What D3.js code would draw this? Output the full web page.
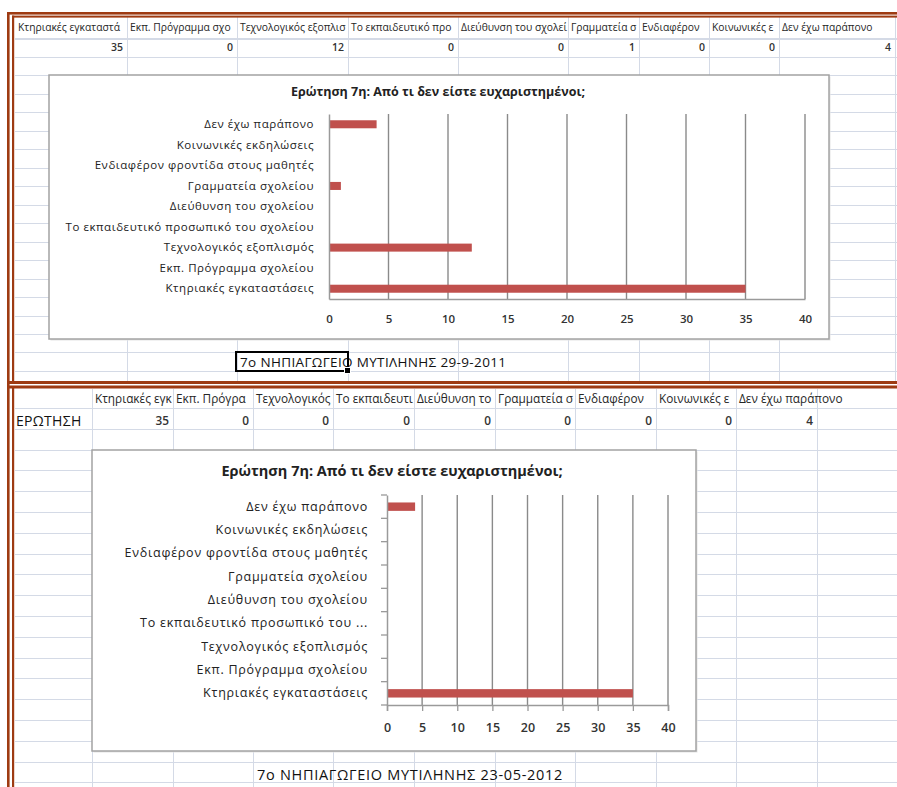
<!DOCTYPE html>
<html>
<head>
<meta charset="utf-8">
<script src="https://cdn.jsdelivr.net/npm/d3@7"></script>
<style>
  html, body { margin: 0; padding: 0; background: #fff; }
  svg { display: block; }
  text { font-family: "Open Sans", "Noto Sans", sans-serif; }
</style>
</head>
<body>
<div id="chart"></div>
<script>
// ---------------- DATA ----------------
const categories = [
  "Κτηριακές εγκαταστάσεις",
  "Εκπ. Πρόγραμμα σχολείου",
  "Τεχνολογικός εξοπλισμός",
  "Το εκπαιδευτικό προσωπικό του σχολείου",
  "Διεύθυνση του σχολείου",
  "Γραμματεία σχολείου",
  "Ενδιαφέρον φροντίδα στους μαθητές",
  "Κοινωνικές εκδηλώσεις",
  "Δεν έχω παράπονο"
];
const values2011 = [35, 0, 12, 0, 0, 1, 0, 0, 4];
const values2012 = [35, 0, 0, 0, 0, 0, 0, 0, 4];
const xTicks = [0, 5, 10, 15, 20, 25, 30, 35, 40];
const chartTitle = "Ερώτηση 7η: Από τι δεν είστε ευχαριστημένοι;";
const caption2011 = "7ο ΝΗΠΙΑΓΩΓΕΙΟ ΜΥΤΙΛΗΝΗΣ 29-9-2011";
const caption2012 = "7ο ΝΗΠΙΑΓΩΓΕΙΟ ΜΥΤΙΛΗΝΗΣ 23-05-2012";
const rowLabel2012 = "ΕΡΩΤΗΣΗ 7η";
// labels shown on the second chart's axis (one is truncated there)
const axisLabels2012 = categories.map(c =>
  c === "Το εκπαιδευτικό προσωπικό του σχολείου" ? "Το εκπαιδευτικό προσωπικό του ..." : c);

// ---------------- SETUP ----------------
const W = 897, H = 787;
const svg = d3.select("#chart").append("svg").attr("width", W).attr("height", H);
svg.append("rect").attr("width", W).attr("height", H).attr("fill", "#fff");
const gridColor = "#d4dae6";
const brown = "#9e3b12";

function sheetSection(cfg) {
  const g = svg.append("g");
  for (let y = cfg.firstRowLine; y <= cfg.yBottom + 0.5; y += cfg.rowH) {
    g.append("line").attr("x1", cfg.xLeft).attr("x2", W).attr("y1", Math.round(y) + 0.5).attr("y2", Math.round(y) + 0.5)
      .attr("stroke", gridColor).attr("stroke-width", 1);
  }
  g.append("line").attr("x1", cfg.xLeft).attr("x2", W).attr("y1", cfg.headerLine + 0.5).attr("y2", cfg.headerLine + 0.5)
    .attr("stroke", gridColor);
  cfg.colEdges.forEach(x => {
    g.append("line").attr("x1", x + 0.5).attr("x2", x + 0.5).attr("y1", cfg.yTop).attr("y2", cfg.yBottom)
      .attr("stroke", gridColor);
  });
  return g;
}

// writes text into a cell, cutting characters that would spill past the cell edge
function cellText(g, txt, x0, x1, y, opts) {
  const t = g.append("text").attr("y", y).attr("font-size", opts.size || 10)
    .attr("fill", opts.color || "#222").attr("font-weight", opts.weight || 400)
    .attr("letter-spacing", opts.ls || 0).text(txt);
  if (opts.align === "right") {
    t.attr("x", x1 - 4).attr("text-anchor", "end");
  } else {
    const xs = x0 + (opts.padL == null ? 3 : opts.padL);
    t.attr("x", xs);
    const avail = x1 - xs - 1;
    let s = txt;
    while (s.length > 1 && t.node().getComputedTextLength() > avail) {
      s = s.slice(0, -1);
      t.text(s);
    }
  }
  return t;
}

// ---------------- TOP SECTION (2011) ----------------
const topCols = [15, 127, 237, 348, 458, 568, 639, 709, 779, 895];
const gTop = sheetSection({
  xLeft: 15, yTop: 17, yBottom: 381, headerLine: 38, firstRowLine: 38.5, rowH: 18.47, colEdges: topCols.slice(1)
});
categories.forEach((c, i) => {
  const x0 = topCols[i], x1 = i === categories.length - 1 ? W : topCols[i + 1];
  cellText(gTop, c, x0, x1, 31, { size: 10.3, color: "#262626" });
  cellText(gTop, String(values2011[i]), x0, topCols[i + 1], 51, { size: 10.5, align: "right", weight: 600, color: "#333" });
});

// ---------------- BOTTOM SECTION (2012) ----------------
const botCols = [15, 92, 173, 253, 333, 414, 495, 575, 656, 736, 817];
const gBot = sheetSection({
  xLeft: 15, yTop: 389, yBottom: H, headerLine: 408, firstRowLine: 408, rowH: 20.8, colEdges: botCols.slice(1)
});
cellText(gBot, rowLabel2012, 15, 92, 426, { size: 14, color: "#111", weight: 500, padL: 1, ls: 0.3 });
categories.forEach((c, i) => {
  const x0 = botCols[i + 1], x1 = i === categories.length - 1 ? W : botCols[i + 2];
  cellText(gBot, c, x0, x1, 403, { size: 11.8, color: "#262626" });
  cellText(gBot, String(values2012[i]), x0, botCols[i + 2], 425, { size: 11.8, align: "right", weight: 600, color: "#333" });
});

// ---------------- BROWN BORDERS ----------------
const gb = svg.append("g").attr("fill", brown);
gb.append("rect").attr("x", 7).attr("y", 12).attr("width", W - 7).attr("height", 2.6);
gb.append("rect").attr("x", 12).attr("y", 15.6).attr("width", W - 12).attr("height", 2);
gb.append("rect").attr("x", 7).attr("y", 12).attr("width", 2.6).attr("height", H - 12);
gb.append("rect").attr("x", 12).attr("y", 15.6).attr("width", 2.2).attr("height", 366);
gb.append("rect").attr("x", 7).attr("y", 381).attr("width", W - 7).attr("height", 3);
gb.append("rect").attr("x", 7).attr("y", 385.5).attr("width", W - 7).attr("height", 3);
gb.append("rect").attr("x", 12).attr("y", 388).attr("width", 2.2).attr("height", H - 388);

// ---------------- CHART FUNCTION ----------------
function barChart(cfg) {
  const g = svg.append("g");
  g.append("rect").attr("x", cfg.box[0] + 1.5).attr("y", cfg.box[1] + 1.5)
    .attr("width", cfg.box[2] - cfg.box[0]).attr("height", cfg.box[3] - cfg.box[1])
    .attr("fill", "#e4e4e4");
  g.append("rect").attr("x", cfg.box[0]).attr("y", cfg.box[1])
    .attr("width", cfg.box[2] - cfg.box[0]).attr("height", cfg.box[3] - cfg.box[1])
    .attr("fill", "#fff").attr("stroke", "#a3a3a3").attr("stroke-width", 1.5);

  g.append("text").attr("x", cfg.titleX).attr("y", cfg.titleY).attr("text-anchor", "middle")
    .attr("font-size", cfg.titleSize).attr("font-weight", 700).attr("fill", "#222").text(chartTitle);

  const x = d3.scaleLinear().domain([0, 40]).range([cfg.plot[0], cfg.plot[2]]);
  const idx = categories.map((c, i) => i).reverse();
  const y = d3.scaleBand().domain(idx)
    .range([cfg.plot[1], cfg.plot[3]]).paddingInner(cfg.pad).paddingOuter(cfg.pad / 2);
  const yOuter = d3.scaleBand().domain(idx).range([cfg.plot[1], cfg.plot[3]]);

  // gridlines
  g.append("g").selectAll("line").data(xTicks.slice(1)).join("line")
    .attr("x1", d => x(d)).attr("x2", d => x(d)).attr("y1", cfg.plot[1]).attr("y2", cfg.plot[3])
    .attr("stroke", "#8a8a8a").attr("stroke-width", 1.4);

  // bars
  g.append("g").selectAll("rect").data(cfg.values).join("rect")
    .attr("x", x(0)).attr("y", (d, i) => y(i)).attr("height", y.bandwidth())
    .attr("width", d => x(d) - x(0)).attr("fill", "#c0504d");

  // x axis
  const xAxis = d3.axisBottom(x).tickValues(xTicks).tickSize(cfg.ticks ? 6 : 0).tickPadding(cfg.xPad);
  const ax = g.append("g").attr("transform", `translate(0,${cfg.plot[3]})`).call(xAxis);
  ax.select(".domain").attr("stroke", "#9a9a9a").attr("stroke-width", 1.5);
  ax.selectAll(".tick line").attr("stroke", "#9a9a9a").attr("stroke-width", 1.3);
  ax.selectAll("text").attr("font-size", cfg.tickSize).attr("font-weight", 600).attr("fill", "#333")
    .attr("font-family", "'Open Sans', sans-serif");

  // y axis
  const yAxis = d3.axisLeft(yOuter).tickSize(0).tickPadding(cfg.yPad).tickFormat(i => cfg.labels[i]);
  const ay = g.append("g").attr("transform", `translate(${cfg.plot[0]},0)`).call(yAxis);
  ay.select(".domain").attr("stroke", "#9a9a9a").attr("stroke-width", 1.5);
  ay.selectAll("text").attr("font-size", cfg.labelSize).attr("fill", "#222").attr("letter-spacing", cfg.labelLs)
    .attr("font-family", "'Open Sans', sans-serif");
  if (cfg.ticks) {
    const edges = d3.range(categories.length + 1).map(k => cfg.plot[1] + k * yOuter.step());
    g.append("g").selectAll("line").data(edges).join("line")
      .attr("x1", cfg.plot[0] - 6).attr("x2", cfg.plot[0]).attr("y1", d => d).attr("y2", d => d)
      .attr("stroke", "#9a9a9a").attr("stroke-width", 1.3);
  }
  return g;
}

barChart({
  box: [49, 75, 829, 339], plot: [329, 114, 805, 299], values: values2011, labels: categories,
  pad: 0.61, titleX: 438, titleY: 96, titleSize: 12.5, ticks: false, xPad: 16, yPad: 15,
  labelSize: 11.5, labelLs: 0.55, tickSize: 11.5
});
barChart({
  box: [92, 450, 696, 751], plot: [387, 495, 668, 705], values: values2012, labels: axisLabels2012,
  pad: 0.64, titleX: 392, titleY: 476, titleSize: 14.5, ticks: true, xPad: 12, yPad: 19,
  labelSize: 12.5, labelLs: 0.75, tickSize: 12.5
});

// ---------------- CAPTIONS ----------------
svg.append("text").attr("x", 240).attr("y", 367).attr("font-size", 13.5).attr("letter-spacing", 0.35)
  .attr("fill", "#111").text(caption2011);
svg.append("rect").attr("x", 236).attr("y", 352).attr("width", 112).attr("height", 19)
  .attr("fill", "none").attr("stroke", "#000").attr("stroke-width", 2);
svg.append("rect").attr("x", 344.5).attr("y", 367.5).attr("width", 6).attr("height", 6)
  .attr("fill", "#000").attr("stroke", "#fff").attr("stroke-width", 1);
svg.append("text").attr("x", 257).attr("y", 780).attr("font-size", 14.5).attr("letter-spacing", 0.7)
  .attr("fill", "#111").text(caption2012);
</script>
</body>
</html>
